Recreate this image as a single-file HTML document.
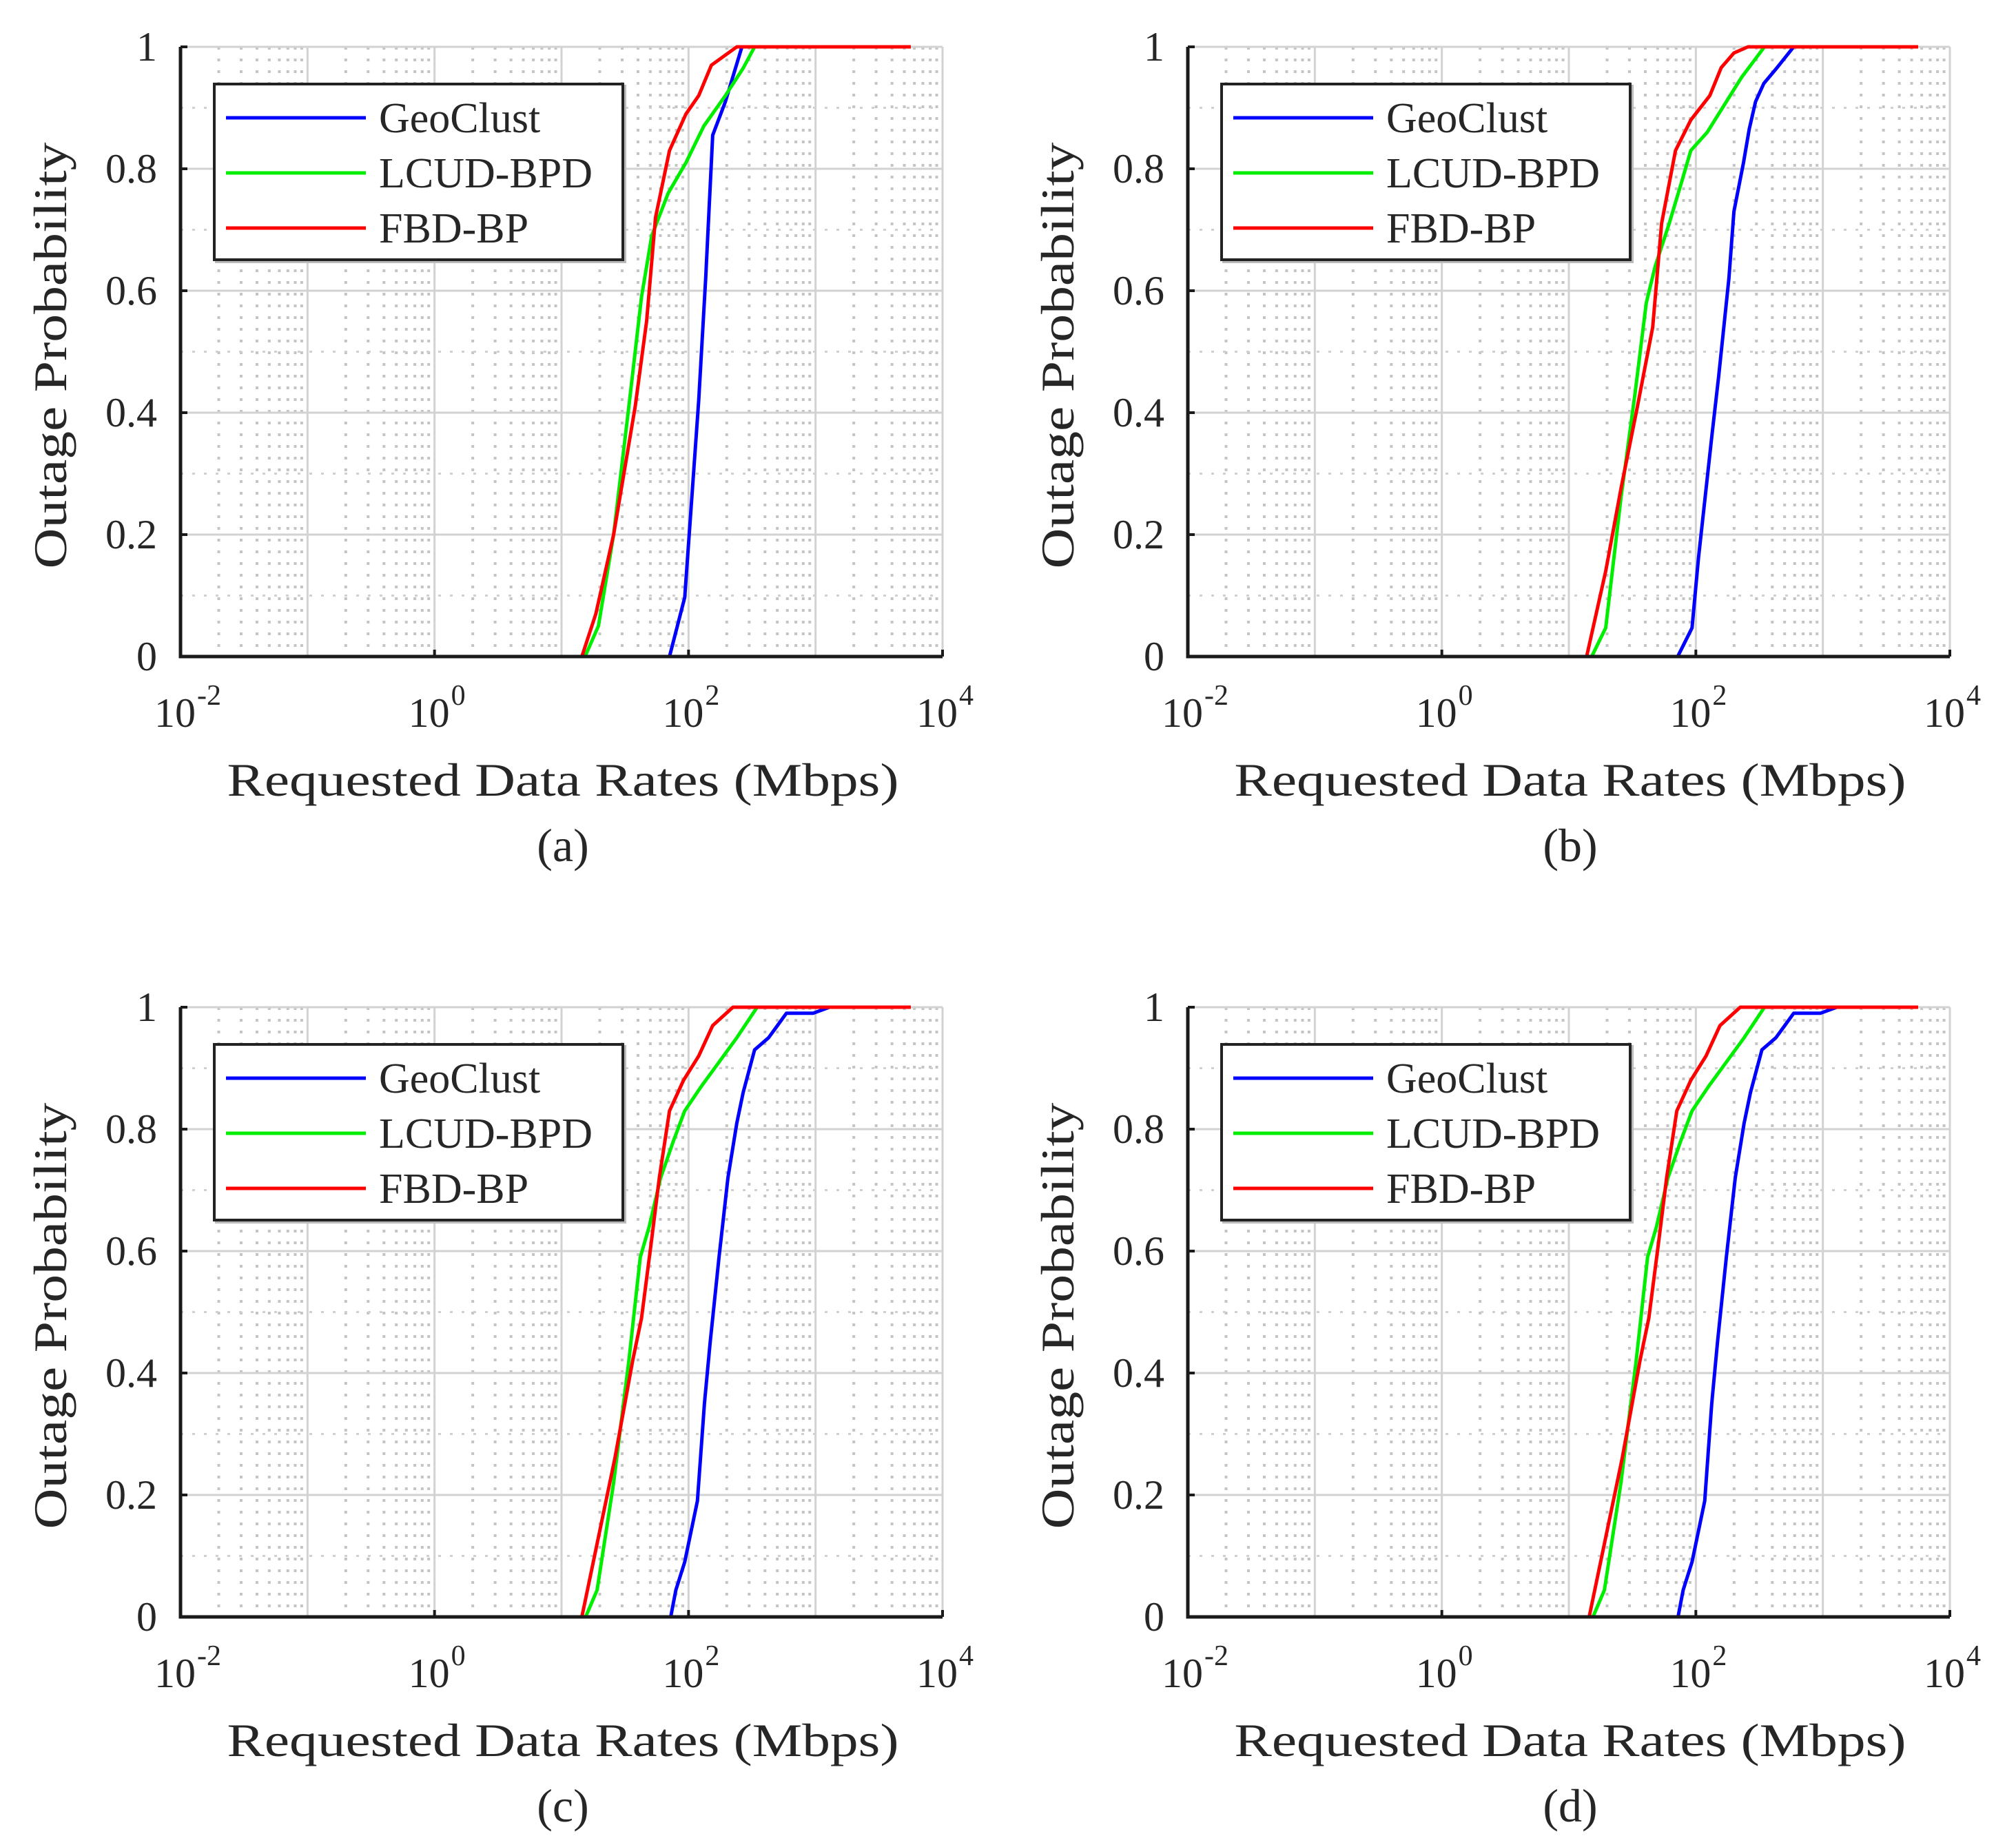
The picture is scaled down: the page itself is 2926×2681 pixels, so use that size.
<!DOCTYPE html>
<html><head><meta charset="utf-8"><style>
html,body{margin:0;padding:0;background:#fff;}
svg{display:block;font-family:"Liberation Serif",serif;}
</style></head><body>
<svg id="fig" width="2926" height="2681" viewBox="0 0 2926 2681" xmlns="http://www.w3.org/2000/svg"></svg>
<script>
const panelLabels = ['(a)','(b)','(c)','(d)'];
const seriesNames = ['GeoClust','LCUD-BPD','FBD-BP'];
const seriesColors = ['#0000ff','#00ee00','#ff0000'];
const xTickExps = [-2,0,2,4];
const yTicks = [0,0.2,0.4,0.6,0.8,1];
const yTickLabels = ['0','0.2','0.4','0.6','0.8','1'];
// log10(rate) values and outage probabilities
const geoA_x = [-2,1.85,1.97,2.005,2.08,2.135,2.19,2.29,2.42,3.75];
const geoA_y = [0,0,0.097,0.2,0.42,0.62,0.855,0.91,1,1];
const lcudA_x = [-2,1.185,1.29,1.41,1.53,1.63,1.71,1.84,1.98,2.12,2.29,2.43,2.52,3.75];
const lcudA_y = [0,0,0.05,0.2,0.41,0.59,0.69,0.76,0.81,0.87,0.92,0.965,1,1];
const fbdA_x = [-2,1.16,1.27,1.41,1.58,1.67,1.74,1.85,1.98,2.08,2.18,2.38,3.75];
const fbdA_y = [0,0,0.07,0.2,0.41,0.55,0.72,0.83,0.89,0.92,0.97,1,1];
const geoB_x = [-2,1.857,1.97,2.02,2.125,2.18,2.26,2.30,2.375,2.42,2.47,2.535,2.64,2.77,3.75];
const geoB_y = [0,0,0.047,0.16,0.36,0.46,0.62,0.73,0.81,0.865,0.91,0.94,0.966,1,1];
const lcudB_x = [-2,1.18,1.29,1.41,1.52,1.61,1.68,1.79,1.89,1.96,2.09,2.21,2.36,2.54,3.75];
const lcudB_y = [0,0,0.047,0.26,0.43,0.58,0.64,0.71,0.78,0.83,0.86,0.90,0.95,1,1];
const fbdB_x = [-2,1.14,1.29,1.41,1.54,1.66,1.73,1.84,1.96,2.11,2.20,2.30,2.41,3.75];
const fbdB_y = [0,0,0.14,0.275,0.41,0.54,0.71,0.83,0.88,0.92,0.966,0.99,1,1];
const geoC_x = [-2,1.86,1.90,1.97,2.07,2.125,2.17,2.24,2.31,2.38,2.43,2.52,2.63,2.70,2.77,2.98,3.11,3.75];
const geoC_y = [0,0,0.044,0.09,0.19,0.35,0.45,0.59,0.72,0.81,0.86,0.93,0.95,0.97,0.99,0.99,1,1];
const lcudC_x = [-2,1.19,1.28,1.41,1.53,1.62,1.69,1.78,1.88,1.97,2.10,2.24,2.38,2.54,3.75];
const lcudC_y = [0,0,0.044,0.22,0.42,0.59,0.64,0.72,0.78,0.83,0.87,0.91,0.95,1,1];
const fbdC_x = [-2,1.16,1.28,1.42,1.56,1.63,1.71,1.77,1.85,1.96,2.08,2.19,2.35,3.75];
const fbdC_y = [0,0,0.12,0.26,0.42,0.49,0.62,0.72,0.83,0.88,0.92,0.97,1,1];
const panelSeries = [
  [[geoA_x,geoA_y],[lcudA_x,lcudA_y],[fbdA_x,fbdA_y]],
  [[geoB_x,geoB_y],[lcudB_x,lcudB_y],[fbdB_x,fbdB_y]],
  [[geoC_x,geoC_y],[lcudC_x,lcudC_y],[fbdC_x,fbdC_y]],
  [[geoC_x,geoC_y],[lcudC_x,lcudC_y],[fbdC_x,fbdC_y]]
];

const NS='http://www.w3.org/2000/svg';
const svg=document.getElementById('fig');
function mk(tag,attrs,parent){const e=document.createElementNS(NS,tag);for(const k in attrs)e.setAttribute(k,attrs[k]);(parent||svg).appendChild(e);return e;}

const W=1106,H=885;
panelLabels.forEach((lab,pi)=>{
  const ox=262+(pi%2)*1462, oy=68+Math.floor(pi/2)*1394;
  const g=mk('g',{});
  
  
  const xS=v=>ox+(v+2)/6*W;
  const yS=v=>oy+H-v*H;
  for(let d=-2;d<4;d++){for(let m=2;m<=9;m++){
    const x=xS(d+Math.log10(m));
    const l=mk('line',{x1:x,y1:oy,x2:x,y2:oy+H,stroke:'#c4c4c4','stroke-width':4,'stroke-dasharray':'4 13'},g);
    
    
  }}
  for(let k=1;k<10;k+=2){const y=yS(k/10);
    const l=mk('line',{x1:ox,y1:y,x2:ox+W,y2:y,stroke:'#d0d0d0','stroke-width':3,'stroke-dasharray':'4 13'},g);
    
    }
  for(let d=-2;d<=4;d++){const x=xS(d);
    const l=mk('line',{x1:x,y1:oy,x2:x,y2:oy+H,stroke:'#d2d2d2','stroke-width':3},g);
    
    }
  yTicks.forEach(t=>{const y=yS(t);
    const l=mk('line',{x1:ox,y1:y,x2:ox+W,y2:y,stroke:'#d2d2d2','stroke-width':3},g);
    
    });
  panelSeries[pi].forEach((s,si)=>{
    const pts=s[0].map((xv,i)=>xS(xv).toFixed(1)+','+yS(s[1][i]).toFixed(1)).join(' ');
    const pl=mk('polyline',{points:pts,fill:'none',stroke:seriesColors[si],'stroke-width':5,'stroke-linejoin':'round'},g);
    
    
  });
  const ax=mk('path',{d:`M${ox},${oy} L${ox},${oy+H} L${ox+W},${oy+H}`,fill:'none',stroke:'#1a1a1a','stroke-width':5},g);
  
  
  yTicks.forEach((t,i)=>{const y=yS(t);
    mk('line',{x1:ox,y1:y,x2:ox+10,y2:y,stroke:'#1a1a1a','stroke-width':4},g);
    const tx=mk('text',{x:ox-34,y:y+20,'text-anchor':'end','font-size':60,fill:'#262626'},g);
    tx.textContent=yTickLabels[i];
    
    });
  xTickExps.forEach(e=>{const x=xS(e);
    mk('line',{x1:x,y1:oy+H,x2:x,y2:oy+H-10,stroke:'#1a1a1a','stroke-width':4},g);
    const tx=mk('text',{x:x-8,y:oy+H+102,'text-anchor':'middle','font-size':60,fill:'#262626'},g);
    tx.textContent='10';
    
    
    const sp=mk('text',{x:x+24,y:oy+H+70,'text-anchor':'start','font-size':42,fill:'#262626'},g);
    sp.textContent=String(e);
    
    });
  const xt=mk('text',{x:ox+555,y:oy+H+202,'text-anchor':'middle','font-size':68,fill:'#262626',textLength:975,lengthAdjust:'spacingAndGlyphs'},g);
  xt.textContent='Requested Data Rates (Mbps)';
  
  
  const yt=mk('text',{x:0,y:0,'text-anchor':'middle','font-size':68,fill:'#262626',textLength:619,lengthAdjust:'spacingAndGlyphs',transform:`translate(${ox-166},${oy+448}) rotate(-90)`},g);
  yt.textContent='Outage Probability';
  
  
  const pl=mk('text',{x:ox+555,y:oy+H+297,'text-anchor':'middle','font-size':68,fill:'#262626'},g);
  pl.textContent=lab;
  
  
  const lg=mk('g',{},g);
  
  
  mk('rect',{x:ox+52,y:oy+57,width:593,height:255,fill:'none',stroke:'#bbb','stroke-width':4},lg);
  mk('rect',{x:ox+49,y:oy+54,width:593,height:255,fill:'#fff',stroke:'#222','stroke-width':4},lg);
  seriesNames.forEach((n,si)=>{const y=oy+103+si*80;
    const ln=mk('line',{x1:ox+66,y1:y,x2:ox+269,y2:y,stroke:seriesColors[si],'stroke-width':5},lg);
    
    
    const tx=mk('text',{x:ox+288,y:y+21,'font-size':62,fill:'#262626'},lg);
    tx.textContent=n;
    
    });
});
</script>
</body></html>
